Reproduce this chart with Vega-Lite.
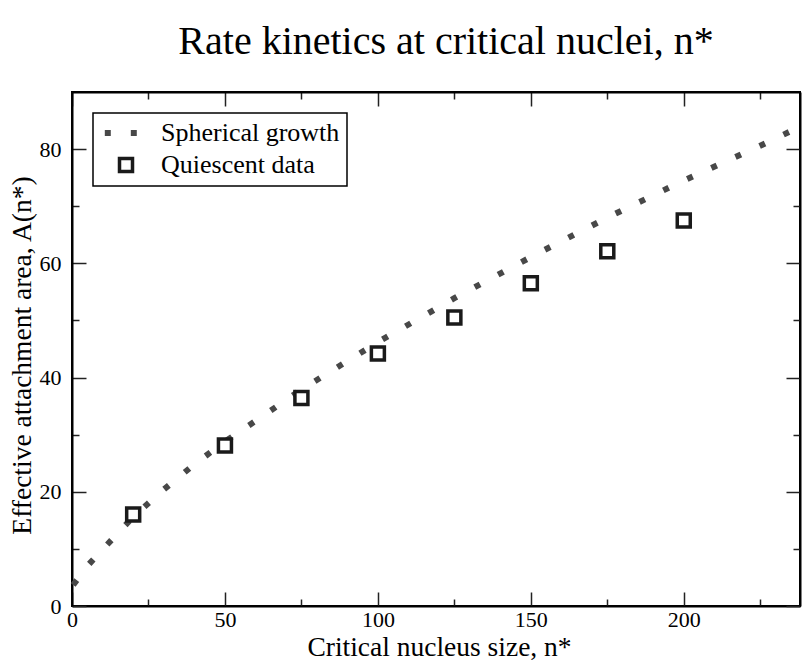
{
  "$schema": "https://vega.github.io/schema/vega-lite/v6.json",
  "width": 728,
  "height": 514,
  "autosize": "none",
  "padding": {"left": 72, "top": 92, "right": 2, "bottom": 59},
  "background": "white",
  "title": {"text": "Rate kinetics at critical nuclei, n*", "font": "Liberation Serif", "fontSize": 40, "fontWeight": "normal", "color": "black", "anchor": "middle", "offset": 29, "dx": 10},
  "config": {
    "view": {"stroke": "black", "strokeWidth": 2},
    "axis": {"grid": false, "domainColor": "black", "domainWidth": 2, "tickColor": "#222222", "tickWidth": 1.5, "labelFont": "Liberation Serif", "labelFontSize": 22, "labelColor": "black", "titleFont": "Liberation Serif", "titleFontSize": 27.5, "titleFontWeight": "normal", "titleColor": "black", "labelOverlap": false, "labelFlush": false},
    "legend": {"strokeWidth": 1.5}
  },
  "datasets": {
    "curve": [
      {"n": 0, "A": 3.4}, {"n": 5, "A": 7.0}, {"n": 10, "A": 9.9}, {"n": 20, "A": 15.6},
      {"n": 30, "A": 20.4}, {"n": 40, "A": 24.8}, {"n": 50, "A": 28.8}, {"n": 60, "A": 32.4},
      {"n": 75, "A": 37.9}, {"n": 100, "A": 46.2}, {"n": 125, "A": 53.9}, {"n": 150, "A": 61.1},
      {"n": 175, "A": 68.0}, {"n": 200, "A": 74.5}, {"n": 225, "A": 80.6}, {"n": 238, "A": 83.9}
    ],
    "pts": [
      {"n": 20, "A": 16.0, "series": "Quiescent data"},
      {"n": 50, "A": 28.1, "series": "Quiescent data"},
      {"n": 75, "A": 36.4, "series": "Quiescent data"},
      {"n": 100, "A": 44.2, "series": "Quiescent data"},
      {"n": 125, "A": 50.5, "series": "Quiescent data"},
      {"n": 150, "A": 56.5, "series": "Quiescent data"},
      {"n": 175, "A": 62.1, "series": "Quiescent data"},
      {"n": 200, "A": 67.5, "series": "Quiescent data"}
    ]
  },
  "layer": [
    {
      "data": {"name": "curve"},
      "mark": {"type": "line", "strokeDash": [6, 20.5], "strokeDashOffset": -2, "strokeWidth": 6, "strokeCap": "butt", "color": "#484848"},
      "encoding": {
        "x": {"field": "n", "type": "quantitative", "scale": {"domain": [0, 238], "nice": false, "zero": false},
          "axis": {"orient": "bottom", "values": [0, 25, 50, 75, 100, 125, 150, 175, 200, 225],
            "tickSize": {"condition": {"test": "datum.value % 50 === 0", "value": -14}, "value": -7},
            "labelExpr": "datum.value % 50 === 0 ? datum.label : ''",
            "labelPadding": 17, "title": "Critical nucleus size, n*", "titlePadding": -4, "titleX": 367}},
        "y": {"field": "A", "type": "quantitative", "scale": {"domain": [0, 90], "nice": false, "zero": false},
          "axis": {"orient": "left", "values": [0, 10, 20, 30, 40, 50, 60, 70, 80],
            "tickSize": {"condition": {"test": "datum.value % 20 === 0", "value": -14}, "value": -7},
            "labelExpr": "datum.value % 20 === 0 ? datum.label : ''",
            "labelPadding": 25, "title": "Effective attachment area, A(n*)", "titlePadding": 3, "titleY": 263}}
      }
    },
    {
      "data": {"name": "pts"},
      "mark": {"type": "point", "shape": "square", "size": 169, "strokeWidth": 3.5, "opacity": 1, "filled": true},
      "encoding": {
        "x": {"field": "n", "type": "quantitative",
          "axis": {"orient": "top", "values": [0, 25, 50, 75, 100, 125, 150, 175, 200, 225],
            "tickSize": {"condition": {"test": "datum.value % 50 === 0", "value": -14}, "value": -7},
            "labels": false, "title": null}},
        "y": {"field": "A", "type": "quantitative",
          "axis": {"orient": "right", "values": [0, 10, 20, 30, 40, 50, 60, 70, 80],
            "tickSize": {"condition": {"test": "datum.value % 20 === 0", "value": -14}, "value": -7},
            "labels": false, "title": null}},
        "shape": {"field": "series", "type": "nominal",
          "scale": {"domain": ["Spherical growth", "Quiescent data"], "range": ["M-3.26,-0.46H-2.34V0.46H-3.26Z M0.74,-0.46H1.66V0.46H0.74Z", "square"]},
          "legend": {"title": null, "orient": "none", "legendX": 21, "legendY": 21, "strokeColor": "black", "fillColor": "white", "padding": 7, "labelFont": "Liberation Serif", "labelFontSize": 26, "labelColor": "black", "labelLimit": 500, "symbolSize": 169, "symbolStrokeWidth": 3.5, "symbolOffset": 13, "rowPadding": 5, "labelOffset": 22}},
        "fill": {"field": "series", "type": "nominal",
          "scale": {"domain": ["Spherical growth", "Quiescent data"], "range": ["#484848", "white"]}},
        "stroke": {"field": "series", "type": "nominal",
          "scale": {"domain": ["Spherical growth", "Quiescent data"], "range": ["transparent", "#1a1a1a"]}}
      }
    }
  ],
  "resolve": {"axis": {"x": "independent", "y": "independent"}}
}
